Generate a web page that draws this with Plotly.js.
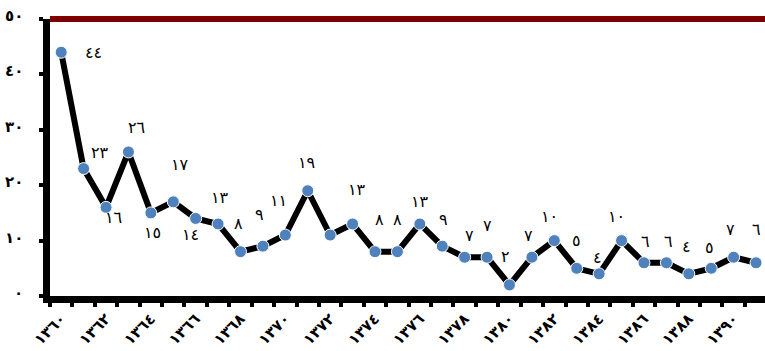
<!DOCTYPE html>
<html>
<head>
<meta charset="utf-8">
<script src="https://cdn.plot.ly/plotly-3.0.1.min.js"></script>
<style>html,body{margin:0;padding:0;background:#fff}</style>
</head>
<body>
<div id="chart" style="width:765px;height:351px"></div>
<script>
// Yearly counts, 1360–1391 (Solar Hijri)
const years = [1360,1361,1362,1363,1364,1365,1366,1367,1368,1369,1370,1371,1372,1373,1374,1375,
               1376,1377,1378,1379,1380,1381,1382,1383,1384,1385,1386,1387,1388,1389,1390,1391];
const counts = [44,23,16,26,15,17,14,13,8,9,11,19,11,13,8,8,13,9,7,7,2,7,10,5,4,10,6,6,4,5,7,6];
// Which points carry a value label (1372 has none)
const showLabel = [1,1,1,1,1,1,1,1,1,1,1,1,0,1,1,1,1,1,1,1,1,1,1,1,1,1,1,1,1,1,1,1];

const xTickYears  = [1360,1362,1364,1366,1368,1370,1372,1374,1376,1378,1380,1382,1384,1386,1388,1390];
const xTickLabels = ['١٣٦٠','١٣٦٢','١٣٦٤','١٣٦٦','١٣٦٨','١٣٧٠','١٣٧٢','١٣٧٤','١٣٧٦','١٣٧٨','١٣٨٠','١٣٨٢','١٣٨٤','١٣٨٦','١٣٨٨','١٣٩٠'];
const yTickValues = [0,10,20,30,40,50];
const yTickLabels = ['٠','١٠','٢٠','٣٠','٤٠','٥٠'];

// Pixel offsets of each value label from its marker [dx, dy-up]
const labelShift = [[32,0],[16,16],[7,-10],[8,24],[2,-20],[7,37],[-5,-16],[2,26],[-2,28],[-3,32],
                    [-7,35],[-1,28],[0,0],[4,34],[4,32],[0,32],[0,22],[1,27],[5,22],[0,32],
                    [-4,28],[-3,22],[-5,24],[0,28],[-2,16],[-5,24],[2,21],[2,21],[-2,27],[-2,21],
                    [-3,28],[0,33]];

const arabicDigits = '٠١٢٣٤٥٦٧٨٩';
const toArabic = n => String(n).replace(/[0-9]/g, d => arabicDigits[+d]);

const FONT = 'DejaVu Sans, sans-serif';

const annotations = [];
years.forEach((yr, i) => {
  if (!showLabel[i]) return;
  annotations.push({
    x: yr, y: counts[i], xref: 'x', yref: 'y',
    text: toArabic(counts[i]), showarrow: false,
    xshift: labelShift[i][0], yshift: labelShift[i][1],
    font: {family: FONT, size: 16, color: '#000'}
  });
});

// Value-axis labels, set well left of the heavy axis line
yTickValues.forEach((v, i) => {
  annotations.push({
    x: 0, xref: 'paper', y: v, yref: 'y',
    text: '\u200E' + yTickLabels[i], showarrow: false,
    xanchor: 'right', xshift: -25, yshift: 3,
    font: {family: FONT, size: 15, color: '#000', weight: 'bold'}
  });
});

const trace = {
  x: years, y: counts, type: 'scatter', mode: 'lines+markers',
  line: {color: '#000', width: 6},
  marker: {color: '#4F81BD', size: 12, line: {color: '#fff', width: 1}},
  cliponaxis: false, hoverinfo: 'skip'
};

const layout = {
  width: 765, height: 351,
  margin: {l: 50, r: 0, t: 19, b: 55},
  paper_bgcolor: '#fff', plot_bgcolor: '#fff',
  showlegend: false,
  xaxis: {
    range: [1359.5, 1391.4], showgrid: false, zeroline: false,
    showline: true, linecolor: '#000', linewidth: 7,
    tickmode: 'array', tickvals: xTickYears, ticktext: xTickLabels,
    ticks: '', tickangle: -45, ticklabelstandoff: 1,
    tickfont: {family: FONT, size: 15, color: '#000', weight: 'bold'},
    minor: {tick0: 1359.5, dtick: 1, ticks: 'outside', ticklen: 4, tickwidth: 4, tickcolor: '#000', showgrid: false}
  },
  yaxis: {
    range: [0, 50], showgrid: false, zeroline: false,
    showline: true, linecolor: '#000', linewidth: 7,
    tickmode: 'array', tickvals: yTickValues, showticklabels: false,
    ticks: 'outside', ticklen: 4, tickwidth: 4, tickcolor: '#000'
  },
  shapes: [{
    type: 'line', xref: 'paper', yref: 'paper', x0: 0, x1: 1, y0: 1, y1: 1,
    line: {color: '#800000', width: 6}, layer: 'below'
  }],
  annotations: annotations
};

Plotly.newPlot('chart', [trace], layout, {displayModeBar: false, staticPlot: true});
</script>
</body>
</html>
